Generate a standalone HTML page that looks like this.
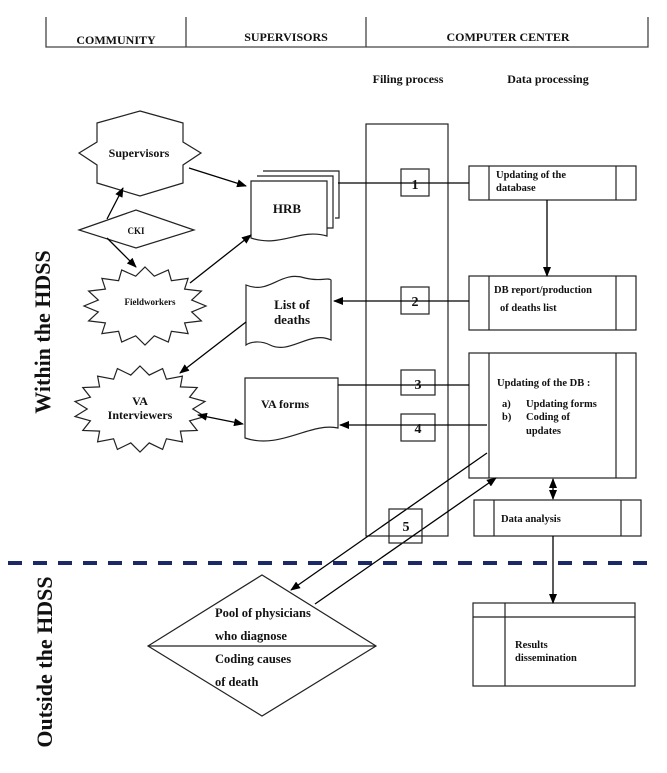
<!DOCTYPE html>
<html><head><meta charset="utf-8"><style>
body{margin:0;background:#fff;}
svg text{font-family:"Liberation Serif",serif;font-weight:bold;fill:#111;}
</style></head><body>
<svg id="s" width="667" height="768" viewBox="0 0 667 768" xmlns="http://www.w3.org/2000/svg">
<defs><marker id="a" markerWidth="10" markerHeight="8" refX="9" refY="4" orient="auto" markerUnits="userSpaceOnUse"><path d="M0,0 L10,4 L0,8 z" fill="#000"/></marker>
<marker id="b" markerWidth="10" markerHeight="8" refX="1" refY="4" orient="auto" markerUnits="userSpaceOnUse"><path d="M10,0 L0,4 L10,8 z" fill="#000"/></marker></defs>
<g stroke="#444" stroke-width="1.3" fill="none">
<path d="M46,17 V47 H648 V17 M186,17 V47 M366,17 V47"/>
</g>
<text x="116" y="44" font-size="12" text-anchor="middle">COMMUNITY</text>
<text x="286" y="41" font-size="12" text-anchor="middle">SUPERVISORS</text>
<text x="508" y="41" font-size="12" text-anchor="middle">COMPUTER CENTER</text>
<text x="408" y="83" font-size="12" text-anchor="middle">Filing process</text>
<text x="548" y="83" font-size="12" text-anchor="middle">Data processing</text>
<text transform="translate(50,332) rotate(-90)" font-size="22" text-anchor="middle">Within the HDSS</text>
<text transform="translate(52,662) rotate(-90)" font-size="22" text-anchor="middle">Outside the HDSS</text>
<line x1="8" y1="563" x2="655" y2="563" stroke="#1b2a66" stroke-width="4" stroke-dasharray="14,11"/>
<g stroke="#222" stroke-width="1.2" fill="#fff">
<rect x="366" y="124" width="82" height="412"/>
<polygon points="140,111 183,123 183,142 201,153 183,165 183,183 140,196 97,183 97,165 79,153 97,142 97,123"/>
<polygon points="79,230 136,210 194,230 136,248"/>
<polygon id="fw"/><polygon id="va"/>
<path d="M263,171 H339 V218 H335"/><path d="M257,176 H333 V228 H327"/>
<path d="M251,181 H327 V236 C300,228 280,248 251,238 Z"/>
<path d="M246,285 C270,295 280,270 305,278 C320,282 328,277 331,280 V340 C310,330 290,355 270,345 C260,340 250,342 246,345 Z"/>
<path d="M245,378 H338 V428 C310,422 280,450 245,438 Z"/>
<rect x="401" y="169" width="28" height="27"/>
<rect x="401" y="287" width="28" height="27"/>
<rect x="401" y="370" width="34" height="25"/>
<rect x="401" y="414" width="34" height="27"/>
<rect x="469" y="166" width="167" height="34"/><path d="M489,166V200M616,166V200"/>
<rect x="469" y="276" width="167" height="54"/><path d="M489,276V330M616,276V330"/>
<rect x="469" y="353" width="167" height="125"/><path d="M489,353V478M616,353V478"/>
<rect x="474" y="500" width="167" height="36"/><path d="M494,500V536M621,500V536"/>
<rect x="473" y="603" width="162" height="83"/><path d="M505,603V686M473,617H635"/>
<polygon points="148,646 262,575 376,646 262,716"/><line x1="148" y1="646" x2="376" y2="646"/>
</g>
<g stroke="#000" stroke-width="1.3" fill="none">
<line x1="189" y1="168" x2="246" y2="186" marker-end="url(#a)"/>
<line x1="107" y1="219" x2="123" y2="188" marker-end="url(#a)"/>
<line x1="107" y1="238" x2="136" y2="267" marker-end="url(#a)"/>
<line x1="190" y1="283" x2="251" y2="235" marker-end="url(#a)"/>
<line x1="246" y1="322" x2="180" y2="373" marker-end="url(#a)"/>
<line x1="198" y1="415" x2="243" y2="424" marker-end="url(#a)" marker-start="url(#b)"/>
<line x1="338" y1="183" x2="469" y2="183"/>
<line x1="547" y1="200" x2="547" y2="276" marker-end="url(#a)"/>
<line x1="469" y1="301" x2="334" y2="301" marker-end="url(#a)"/>
<line x1="338" y1="385" x2="469" y2="385"/>
<line x1="487" y1="425" x2="340" y2="425" marker-end="url(#a)"/>
<line x1="553" y1="479" x2="553" y2="499" marker-end="url(#a)" marker-start="url(#b)"/>
<line x1="553" y1="536" x2="553" y2="603" marker-end="url(#a)"/>
<line x1="487" y1="453" x2="291" y2="590" marker-end="url(#a)"/>
<line x1="315" y1="604" x2="496" y2="478" marker-end="url(#a)"/>
</g>
<rect x="389" y="509" width="33" height="34" fill="none" stroke="#222" stroke-width="1.2"/>
<text x="139" y="157" font-size="12" text-anchor="middle">Supervisors</text>
<text x="136" y="234" font-size="9" text-anchor="middle">CKI</text>
<text x="150" y="305" font-size="9" text-anchor="middle">Fieldworkers</text>
<text x="140" y="405" font-size="12" text-anchor="middle">VA</text>
<text x="140" y="419" font-size="12" text-anchor="middle">Interviewers</text>
<text x="287" y="213" font-size="13" text-anchor="middle">HRB</text>
<text x="292" y="309" font-size="13" text-anchor="middle">List of</text>
<text x="292" y="324" font-size="13" text-anchor="middle">deaths</text>
<text x="285" y="408" font-size="12" text-anchor="middle">VA forms</text>
<text x="415" y="189" font-size="14" text-anchor="middle">1</text>
<text x="415" y="306" font-size="14" text-anchor="middle">2</text>
<text x="418" y="389" font-size="14" text-anchor="middle">3</text>
<text x="418" y="433" font-size="14" text-anchor="middle">4</text>
<text x="406" y="531" font-size="14" text-anchor="middle">5</text>
<g font-size="10.5">
<text x="496" y="178">Updating of the</text><text x="496" y="191">database</text>
<text x="494" y="293">DB report/production</text><text x="500" y="311">of deaths list</text>
<text x="497" y="386">Updating of the DB :</text>
<text x="502" y="407">a)</text><text x="526" y="407">Updating forms</text>
<text x="502" y="420">b)</text><text x="526" y="420">Coding of</text>
<text x="526" y="434">updates</text>
<text x="501" y="522">Data analysis</text>
<text x="515" y="648">Results</text><text x="515" y="661">dissemination</text>
</g>
<g font-size="12.5">
<text x="215" y="617">Pool of physicians</text>
<text x="215" y="640">who diagnose</text>
<text x="215" y="663">Coding causes</text>
<text x="215" y="686">of  death</text>
</g>
</svg>
<script>
function star(id,cx,cy,rx,ry,n,k){var p=[];for(var i=0;i<2*n;i++){var a=Math.PI*i/n-Math.PI/2,f=i%2?k:1;p.push((cx+rx*f*Math.cos(a)).toFixed(1)+","+(cy+ry*f*Math.sin(a)).toFixed(1));}document.getElementById(id).setAttribute("points",p.join(" "));}
star("fw",145,306,61,39,16,0.78);star("va",140,409,66,43,18,0.8);
</script>
</body></html>
